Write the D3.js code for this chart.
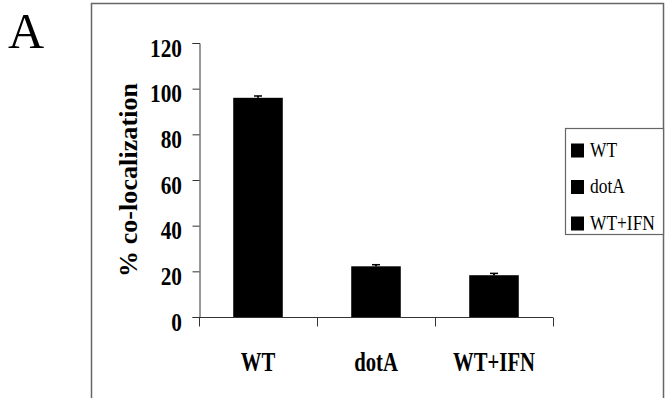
<!DOCTYPE html>
<html lang="en">
<head>
    <meta charset="UTF-8">
    <title>% co-localization</title>
    <style>
        body { margin: 0; background: #fff; }
        text { font-family: "Liberation Serif", "Times New Roman", serif; fill: #000; }
    </style>
</head>
<body>
    <script src="https://d3js.org/d3.v7.min.js"></script>
    <script>
        const categories = ["WT", "dotA", "WT+IFN"];
        const values = [96, 22.2, 18.3];
        const errors = [0.8, 0.7, 0.8];
        const yTicks = [0, 20, 40, 60, 80, 100, 120];

        const width = 666;
        const height = 398;

        const svg = d3.select("body")
            .append("svg")
            .attr("width", width)
            .attr("height", height);

        // outer frame (bottom is cut off by the picture)
        svg.append("path")
            .attr("d", "M91.5,400 V3.5 H663.5 V400")
            .attr("fill", "none")
            .attr("stroke", "#666")
            .attr("stroke-width", 1.5);

        svg.append("text")
            .attr("x", 8)
            .attr("y", 48)
            .style("font-size", "50px")
            .text("A");

        const x = d3.scaleBand()
            .domain(categories)
            .range([199, 553])
            .padding(0);

        const y = d3.scaleLinear()
            .domain([0, 120])
            .range([317, 43]);

        // y axis
        const yAxis = svg.append("g")
            .attr("transform", "translate(199.5,0)")
            .call(d3.axisLeft(y).tickValues(yTicks).tickSize(7).tickFormat(""));
        yAxis.select(".domain").attr("stroke", "#333");
        yAxis.selectAll(".tick line").attr("stroke", "#333");

        svg.selectAll(".ylab")
            .data(yTicks)
            .enter()
            .append("text")
            .attr("class", "ylab")
            .attr("transform", d => `translate(182,${y(d) + 13.5}) scale(0.82,1)`)
            .attr("text-anchor", "end")
            .style("font-size", "26px")
            .style("font-weight", "bold")
            .text(d => d);

        // x axis: ticks at the band edges
        const edges = categories.map(c => x(c)).concat([x.range()[1]]);
        const xAxis = svg.append("g").attr("transform", "translate(0,317.5)");
        xAxis.append("line")
            .attr("x1", 199).attr("x2", 553)
            .attr("stroke", "#333");
        xAxis.selectAll(".xt")
            .data(edges)
            .enter()
            .append("line")
            .attr("x1", d => d + 0.5).attr("x2", d => d + 0.5)
            .attr("y1", 0).attr("y2", 9)
            .attr("stroke", "#333");

        svg.selectAll(".xlab")
            .data(categories)
            .enter()
            .append("text")
            .attr("class", "xlab")
            .attr("transform", d => `translate(${x(d) + x.bandwidth() / 2},370.5) scale(0.74,1)`)
            .attr("text-anchor", "middle")
            .style("font-size", "28px")
            .style("font-weight", "bold")
            .text(d => d);

        // bars
        const barW = x.bandwidth() * 0.42;
        svg.selectAll(".bar")
            .data(values)
            .enter()
            .append("rect")
            .attr("class", "bar")
            .attr("x", (d, i) => x(categories[i]) + (x.bandwidth() - barW) / 2)
            .attr("y", d => y(d))
            .attr("width", barW)
            .attr("height", d => y(0) - y(d))
            .attr("fill", "#000");

        // error bars (tiny caps on top of the bars)
        const err = svg.selectAll(".err")
            .data(values)
            .enter()
            .append("g")
            .attr("class", "err");
        err.append("line")
            .attr("x1", (d, i) => x(categories[i]) + x.bandwidth() / 2)
            .attr("x2", (d, i) => x(categories[i]) + x.bandwidth() / 2)
            .attr("y1", d => y(d))
            .attr("y2", (d, i) => y(d + errors[i]))
            .attr("stroke", "#000")
            .attr("stroke-width", 2);
        err.append("line")
            .attr("x1", (d, i) => x(categories[i]) + x.bandwidth() / 2 - 4)
            .attr("x2", (d, i) => x(categories[i]) + x.bandwidth() / 2 + 4)
            .attr("y1", (d, i) => y(d + errors[i]))
            .attr("y2", (d, i) => y(d + errors[i]))
            .attr("stroke", "#000")
            .attr("stroke-width", 1.5);

        // y title
        svg.append("text")
            .attr("transform", "translate(137,180) rotate(-90)")
            .attr("text-anchor", "middle")
            .attr("textLength", 194)
            .attr("lengthAdjust", "spacing")
            .style("font-size", "26px")
            .style("font-weight", "bold")
            .text("% co-localization");

        // legend
        const legend = svg.append("g");
        legend.append("rect")
            .attr("x", 565.5).attr("y", 128.5)
            .attr("width", 98).attr("height", 106)
            .attr("fill", "#fff")
            .attr("stroke", "#666")
            .attr("stroke-width", 1.2);
        const items = legend.selectAll(".item")
            .data(categories)
            .enter()
            .append("g")
            .attr("transform", (d, i) => `translate(0,${156.5 + i * 36.5})`);
        items.append("rect")
            .attr("x", 571).attr("y", -13)
            .attr("width", 13).attr("height", 14)
            .attr("fill", "#000");
        items.append("text")
            .attr("transform", "translate(590,0) scale(0.87,1)")
            .style("font-size", "20px")
            .text(d => d);
    </script>
</body>
</html>
